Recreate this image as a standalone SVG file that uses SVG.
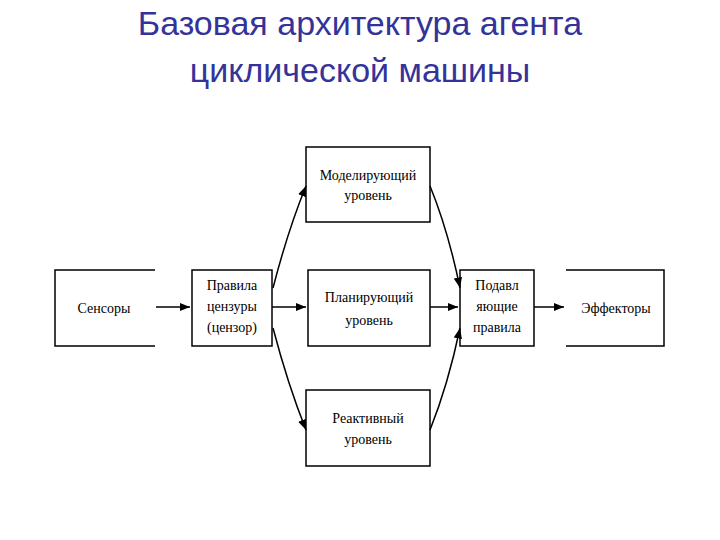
<svg xmlns="http://www.w3.org/2000/svg" width="720" height="540" viewBox="0 0 720 540">
<style>
.t{font-family:"Liberation Sans",Arial,sans-serif;font-size:34px;fill:#333399;text-anchor:middle}
.n{font-family:"Liberation Serif","Times New Roman",serif;font-size:14px;fill:#000;text-anchor:middle}
.b{fill:#fff;stroke:#000;stroke-width:1.5}
.l{fill:none;stroke:#000;stroke-width:1.5}
</style>
<defs><marker id="a" viewBox="0 0 10 10" refX="10" refY="5" markerWidth="7" markerHeight="7" orient="auto"><path d="M0,1 L10,5 L0,9 z" fill="#000"/></marker></defs>
<rect width="720" height="540" fill="#fff"/>
<text class="t" x="360" y="35">Базовая архитектура агента</text>
<text class="t" x="360" y="82">циклической машины</text>
<g id="sensors"><path class="l" d="M155,270 H55 V346 H155"/><text class="n" x="104" y="313">Сенсоры</text></g>
<g id="censor"><rect class="b" x="192" y="270" width="80" height="76"/><text class="n" x="232" y="290">Правила</text><text class="n" x="232" y="311">цензуры</text><text class="n" x="232" y="332">(цензор)</text></g>
<g id="model"><rect class="b" x="306" y="147" width="124" height="75"/><text class="n" x="368" y="180">Моделирующий</text><text class="n" x="368" y="200">уровень</text></g>
<g id="plan"><rect class="b" x="308" y="270" width="122" height="76"/><text class="n" x="369" y="302">Планирующий</text><text class="n" x="369" y="325">уровень</text></g>
<g id="react"><rect class="b" x="306" y="390" width="124" height="76"/><text class="n" x="368" y="423">Реактивный</text><text class="n" x="368" y="444">уровень</text></g>
<g id="supp"><rect class="b" x="460" y="270" width="74" height="76"/><text class="n" x="497" y="290">Подавл</text><text class="n" x="497" y="311">яющие</text><text class="n" x="497" y="332">правила</text></g>
<g id="effectors"><path class="l" d="M566,270 H664 V346 H566"/><text class="n" x="616" y="313">Эффекторы</text></g>
<g id="connectors" class="l" marker-end="url(#a)">
<line class="l" x1="156" y1="307" x2="190" y2="307" marker-end="url(#a)"/>
<line class="l" x1="272" y1="307" x2="306" y2="307" marker-end="url(#a)"/>
<line class="l" x1="430" y1="307" x2="458" y2="307" marker-end="url(#a)"/>
<line class="l" x1="534" y1="307" x2="564" y2="307" marker-end="url(#a)"/>
<path class="l" d="M273,288 Q288,230 306,186" marker-end="url(#a)"/>
<path class="l" d="M273,328 Q288,385 306,430" marker-end="url(#a)"/>
<path class="l" d="M430,186 Q448,230 460,288" marker-end="url(#a)"/>
<path class="l" d="M430,430 Q448,385 460,328" marker-end="url(#a)"/>
</g>
</svg>
